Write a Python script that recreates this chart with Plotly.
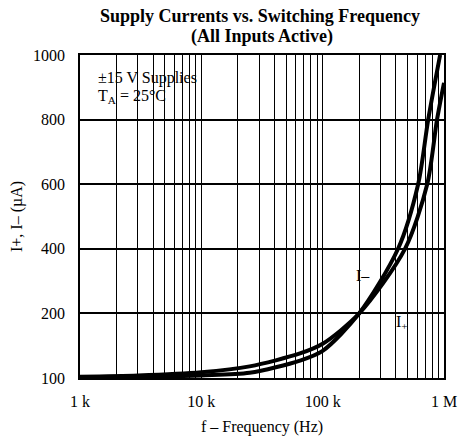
import plotly.graph_objects as go

# ---- data ----
freq_plus = [1e3, 3e3, 1e4, 2.5e4, 6.5e4, 1e5, 2e5, 4.77e5, 7.27e5, 8.76e5, 1e6]
i_plus = [102, 104, 109, 118, 138, 153, 200, 400, 600, 800, 914]

freq_minus = [1e3, 3e3, 1e4, 2.5e4, 6.5e4, 1e5, 2e5, 4.18e5, 6.12e5, 7.41e5, 9.29e5]
i_minus = [100.5, 101.5, 104, 108, 127, 142, 200, 400, 600, 800, 1000]

x_tick_vals = [1e3, 1e4, 1e5, 1e6]
x_tick_text = ["1 k", "10 k", "100 k", "1 M"]
y_tick_vals = [100, 200, 400, 600, 800, 1000]
y_tick_text = ["100", "200", "400", "600", "800", "1000"]


def ypos(v):
    # piecewise scale of the original chart: 100->200 spans same height as 200->400
    if v <= 200:
        return (v - 100) / 100.0
    return 1 + (v - 200) / 200.0


# minor vertical grid positions (2..9 per decade)
minor_vals = [m * d for d in [1e3, 1e4, 1e5] for m in range(2, 10)]

serif = "Liberation Serif, Times New Roman, serif"

fig = go.Figure()
fig.add_trace(go.Scatter(x=freq_plus, y=[ypos(v) for v in i_plus], mode="lines",
                         line=dict(color="black", width=4, shape="spline", smoothing=0.8),
                         name="I+", showlegend=False))
fig.add_trace(go.Scatter(x=freq_minus, y=[ypos(v) for v in i_minus], mode="lines",
                         line=dict(color="black", width=4, shape="spline", smoothing=0.8),
                         name="I-", showlegend=False))

all_x_vals = x_tick_vals + minor_vals
all_x_text = x_tick_text + [""] * len(minor_vals)

fig.update_layout(
    width=458, height=439,
    margin=dict(l=80, r=14, t=55, b=61),
    paper_bgcolor="white", plot_bgcolor="white",
    font=dict(family=serif, size=16, color="black"),
    xaxis=dict(type="log", range=[3, 6], tickvals=all_x_vals, ticktext=all_x_text,
               showgrid=True, gridcolor="black", gridwidth=1.4, automargin=False,
               showline=True, linecolor="black", linewidth=1.5, mirror=True,
               ticks="", zeroline=False, ticklabelstandoff=8,
               title=dict(text="f – Frequency (Hz)", standoff=12,
                          font=dict(family=serif, size=16))),
    yaxis=dict(range=[0, 5], tickvals=[ypos(v) for v in y_tick_vals], ticktext=y_tick_text,
               showgrid=True, gridcolor="black", gridwidth=1.8, automargin=False,
               showline=True, linecolor="black", linewidth=1.5, mirror=True,
               ticks="", zeroline=False, ticklabelstandoff=10,
               title=dict(text="I+, I– (µA)", standoff=6,
                          font=dict(family=serif, size=16))),
)

# title as two centered lines
fig.add_annotation(text="<b>Supply Currents vs. Switching Frequency</b>", xref="paper", yref="paper",
                   x=(260 - 80) / 364, y=(378 - 16) / 323, xanchor="center", yanchor="middle",
                   showarrow=False, font=dict(family=serif, size=18))
fig.add_annotation(text="<b>(All Inputs Active)</b>", xref="paper", yref="paper",
                   x=(262 - 80) / 364, y=(378 - 36) / 323, xanchor="center", yanchor="middle",
                   showarrow=False, font=dict(family=serif, size=18))

# white box behind the condition text
fig.add_shape(type="rect", xref="x", yref="y", x0=3.02, x1=3.985,
              y0=ypos(852), y1=ypos(960), fillcolor="white", line=dict(width=0),
              layer="between")

fig.add_annotation(text="±15 V Supplies", xref="paper", yref="paper", x=(96 - 80) / 364,
                   y=(378 - 78) / 323, xanchor="left", yanchor="middle", showarrow=False,
                   font=dict(family=serif, size=16))
fig.add_annotation(text="T<sub>A</sub> = 25°C", xref="paper", yref="paper", x=(96 - 80) / 364,
                   y=(378 - 97) / 323, xanchor="left", yanchor="middle", showarrow=False,
                   font=dict(family=serif, size=16))
fig.add_annotation(text="I–", xref="x", yref="y", x=5.33, y=ypos(318),
                   showarrow=False, font=dict(family=serif, size=16))
fig.add_annotation(text="I<sub>+</sub>", xref="x", yref="y", x=5.65, y=ypos(186),
                   showarrow=False, font=dict(family=serif, size=16))

fig.write_html("out.html", config={"displayModeBar": False},
               post_script="document.body.style.margin='0';")
